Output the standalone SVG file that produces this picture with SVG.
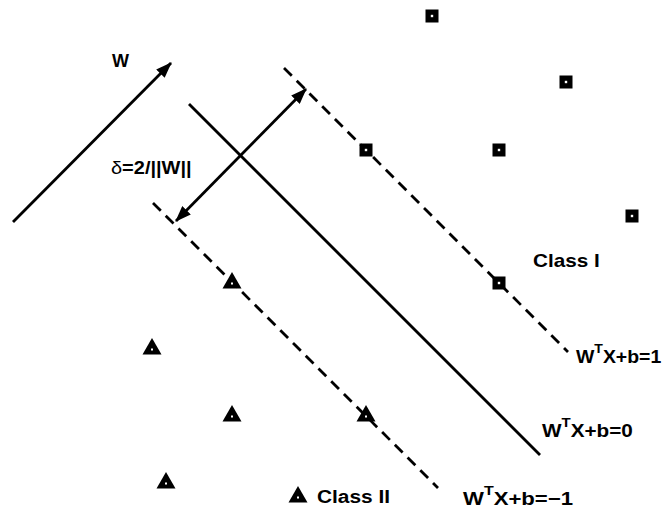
<svg xmlns="http://www.w3.org/2000/svg" width="664" height="508" viewBox="0 0 664 508">
<style>
.ln{stroke:#000;stroke-width:2.8;fill:none}
.ds{stroke:#000;stroke-width:2.8;fill:none;stroke-dasharray:11 7}
.t{font-family:"Liberation Sans",Arial,sans-serif;font-weight:bold;font-size:18px;fill:#000}
.sq{fill:#000}
.dot{fill:#fff}
</style>
<defs>
<marker id="ah" viewBox="0 0 16 12" refX="15" refY="6" markerWidth="17" markerHeight="12" markerUnits="userSpaceOnUse" orient="auto-start-reverse">
<path d="M0,0 L16,6 L0,12 Z" fill="#000"/>
</marker>
<g id="sqm"><rect x="-6.5" y="-6.5" width="13" height="13" class="sq"/><rect x="-1.2" y="-1.2" width="2.4" height="2.4" class="dot"/></g>
<g id="trm"><path d="M0,-9 L9.5,7.5 L-9.5,7.5 Z" fill="#000"/><rect x="-1" y="1.5" width="2" height="2" class="dot"/></g>
</defs>
<rect width="664" height="508" fill="#fff"/>
<g id="connectors">
<line class="ln" x1="13" y1="222" x2="171" y2="63" marker-end="url(#ah)"/>
<line class="ln" x1="189" y1="104" x2="540" y2="455"/>
<line class="ds" x1="284" y1="68" x2="568" y2="352"/>
<line class="ds" x1="153" y1="203" x2="438" y2="488"/>
<line class="ln" x1="176" y1="221" x2="306" y2="89" marker-start="url(#ah)" marker-end="url(#ah)"/>
</g>
<g id="class1">
<use href="#sqm" x="432" y="16"/>
<use href="#sqm" x="566" y="82"/>
<use href="#sqm" x="366" y="150"/>
<use href="#sqm" x="499" y="150"/>
<use href="#sqm" x="632" y="216"/>
<use href="#sqm" x="499" y="283"/>
</g>
<g id="class2">
<use href="#trm" x="232" y="281"/>
<use href="#trm" x="152" y="347"/>
<use href="#trm" x="232" y="414"/>
<use href="#trm" x="366" y="414"/>
<use href="#trm" x="166" y="481"/>
<use href="#trm" x="298" y="495"/>
</g>
<g id="labels">
<text class="t" transform="translate(112,67) scale(1.0,1)">W</text>
<text class="t" transform="translate(111,174) scale(1.11,1)"><tspan font-weight="normal">δ</tspan>=2/||W||</text>
<text class="t" transform="translate(533,267) scale(1.15,1)">Class I</text>
<text class="t" transform="translate(576,363) scale(1.08,1)">W<tspan font-size="13" dy="-10">T</tspan><tspan dy="10">X+b=1</tspan></text>
<text class="t" transform="translate(542,437) scale(1.15,1)">W<tspan font-size="13" dy="-10">T</tspan><tspan dy="10">X+b=0</tspan></text>
<text class="t" transform="translate(463,505) scale(1.23,1)">W<tspan font-size="13" dy="-10">T</tspan><tspan dy="10">X+b=−1</tspan></text>
<text class="t" transform="translate(317,503) scale(1.16,1)">Class II</text>
</g>
</svg>
